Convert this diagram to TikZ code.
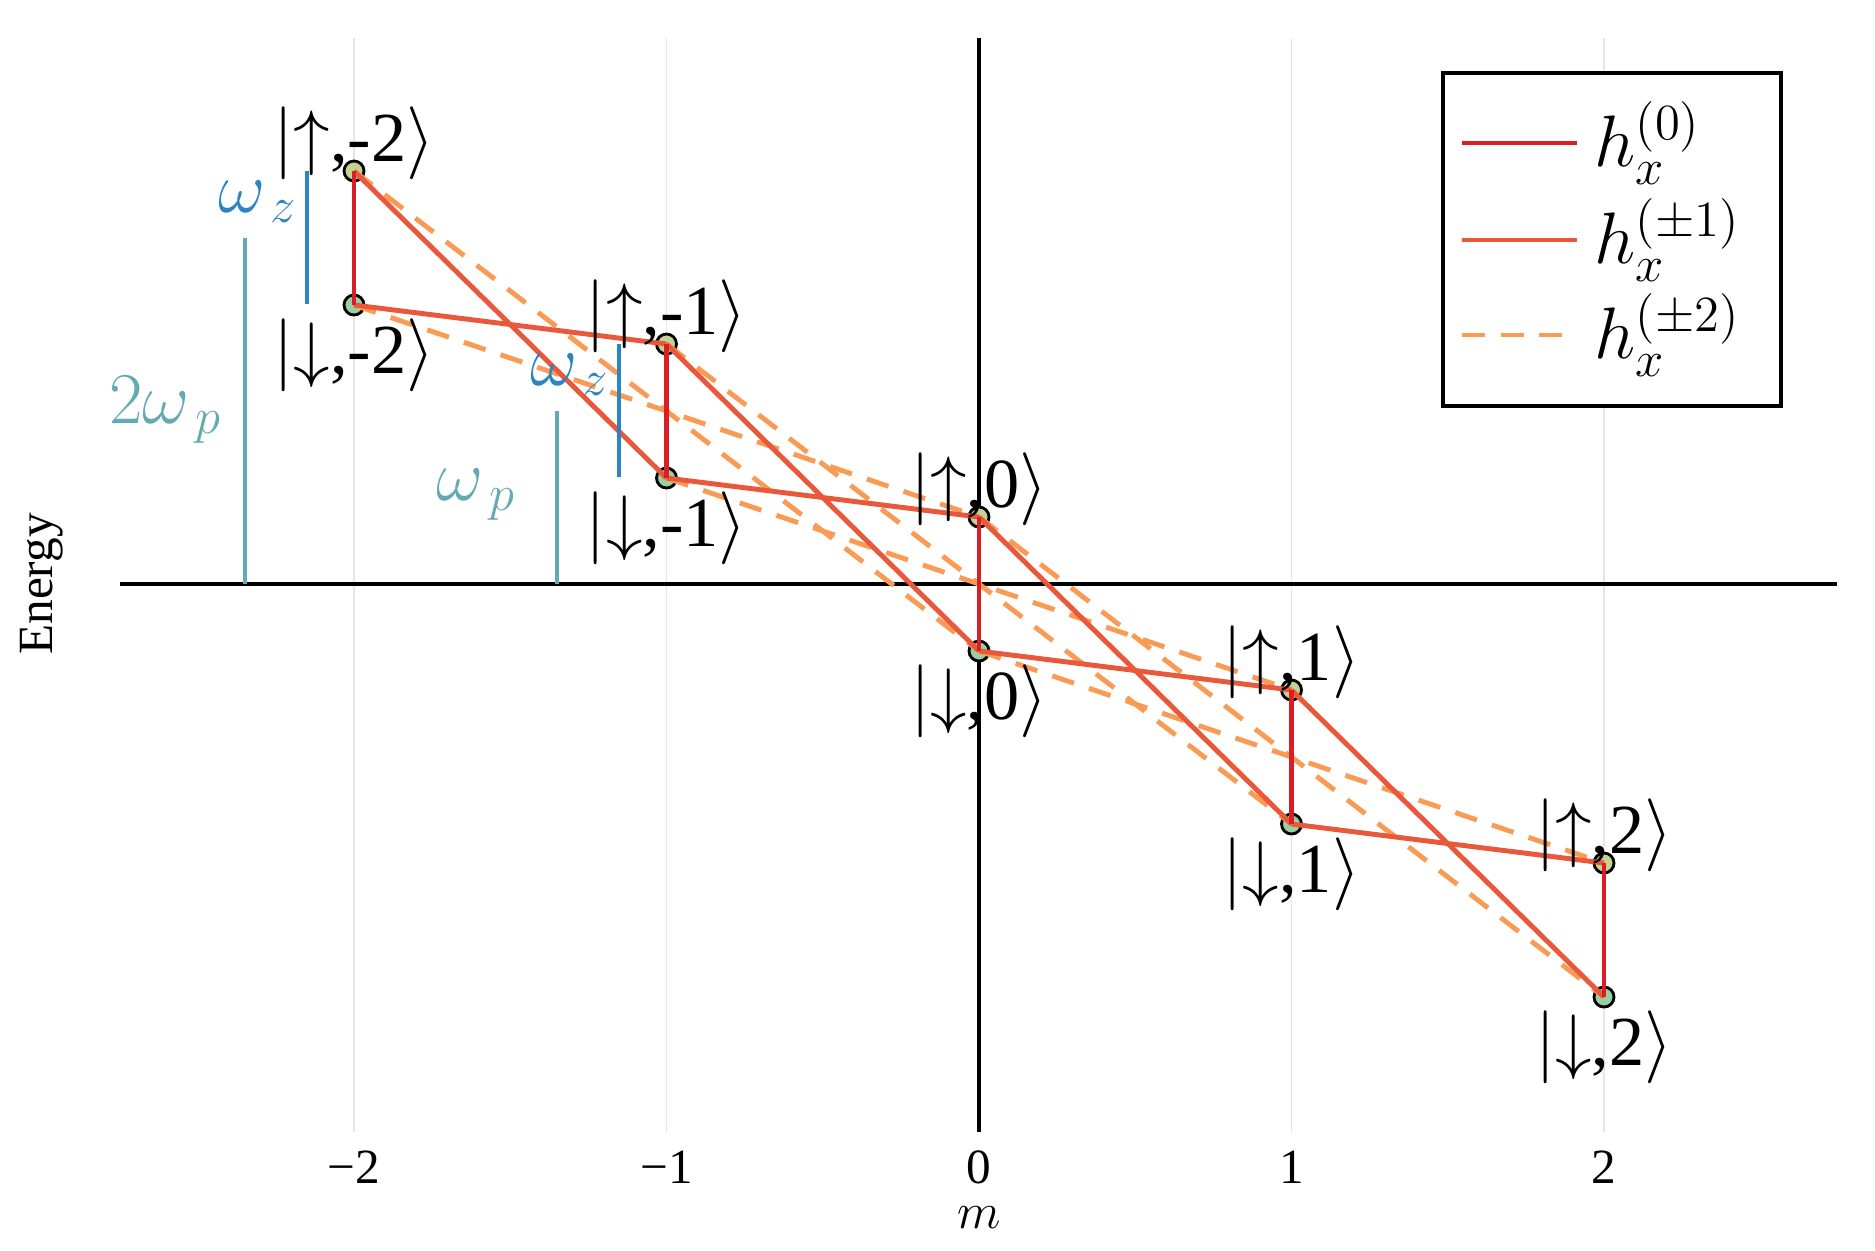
\documentclass[tikz,border=0pt]{standalone}
\usepackage{fontspec}
\setmainfont{Liberation Serif}
\definecolor{hzero}{RGB}{218,30,38}
\definecolor{hone}{RGB}{233,88,58}
\definecolor{htwo}{RGB}{250,155,85}
\definecolor{wzc}{RGB}{45,132,192}
\definecolor{wpc}{RGB}{100,170,178}
\definecolor{upfill}{RGB}{196,210,148}
\definecolor{dnfill}{RGB}{152,208,164}
\definecolor{gridc}{RGB}{230,230,230}
\newcommand{\ketup}[1]{$|{\uparrow}$,#1$\rangle$}
\newcommand{\ketdn}[1]{$|{\downarrow}$,#1$\rangle$}
\tikzset{
  upstate/.style={circle, draw=black, fill=upfill, line width=0.8pt, minimum size=0.2cm, inner sep=0pt},
  dnstate/.style={circle, draw=black, fill=dnfill, line width=0.8pt, minimum size=0.2cm, inner sep=0pt},
  ketlab/.style={font=\fontsize{20}{24}\selectfont, inner sep=0pt, anchor=base},
  bigmath/.style={font=\fontsize{20}{24}\selectfont, inner sep=0pt},
  ticklab/.style={font=\fontsize{14}{17}\selectfont, inner sep=0pt, anchor=base},
  hzeroline/.style={draw=hzero, line width=1.4pt},
  honeline/.style={draw=hone, line width=1.4pt},
  htwoline/.style={draw=htwo, line width=1.4pt, dash pattern=on 6.5pt off 4.5pt},
  axisline/.style={draw=black, line width=1.1pt},
  gridline/.style={draw=gridc, line width=0.5pt},
  barz/.style={draw=wzc, line width=1.3pt},
  barp/.style={draw=wpc, line width=1.3pt},
}
\begin{document}
\begin{tikzpicture}[x=0.01cm,y=-0.01cm]
\useasboundingbox (0,0) rectangle (1875,1250);
% grid
\foreach \gx in {354,666.5,1291.5,1604} {
  \draw[gridline] (\gx,38) -- (\gx,1132);
}
% axes
\draw[axisline] (979,38) -- (979,1132);
\draw[axisline] (120,584) -- (1837,584);
% tick labels
\node[ticklab] (t0) at (354,1183) {−2};
\node[ticklab] (t1) at (666.5,1183) {−1};
\node[ticklab] (t2) at (979,1183) {0};
\node[ticklab] (t3) at (1291.5,1183) {1};
\node[ticklab] (t4) at (1604,1183) {2};
\node[ticklab] (xlab) at (979,1228) {$m$};
\node[font=\fontsize{14}{17}\selectfont, inner sep=0pt, rotate=90] (ylab) at (42,584) {Energy};
% states
\foreach \i in {0,...,4} {
  \pgfmathsetmacro\X{979+312.5*(\i-2)}
  \pgfmathsetmacro\Yu{517+173*(\i-2)}
  \pgfmathsetmacro\Yd{651+173*(\i-2)}
  \node[upstate] (u\i) at (\X,\Yu) {};
  \node[dnstate] (d\i) at (\X,\Yd) {};
}
% h^(+-2) couplings
\foreach \i in {0,1,2} {
  \pgfmathtruncatemacro\j{\i+2}
  \draw[htwoline] (u\i.center) -- (d\j.center);
  \draw[htwoline] (d\i.center) -- (u\j.center);
}
% h^(+-1) couplings
\foreach \i in {0,1,2,3} {
  \pgfmathtruncatemacro\j{\i+1}
  \draw[honeline] (u\i.center) -- (d\j.center);
  \draw[honeline] (d\i.center) -- (u\j.center);
}
% h^(0) couplings
\foreach \i in {0,...,4} {
  \draw[hzeroline] (u\i.center) -- (d\i.center);
}
% state labels
\foreach \i/\lab in {0/-2,1/-1,2/0,3/1,4/2} {
  \pgfmathsetmacro\X{979+312.5*(\i-2)}
  \pgfmathsetmacro\Yu{517+173*(\i-2)}
  \pgfmathsetmacro\Yd{651+173*(\i-2)}
  \node[ketlab] (lu\i) at (\X,\Yu-10) {\ketup{\lab}};
  \node[ketlab] (ld\i) at (\X,\Yd+68) {\ketdn{\lab}};
}
% energy scale bars
\draw[barz] (307,171) -- (307,304);
\node[bigmath, anchor=base, text=wzc] (wz1) at (258,212) {$\omega_{\,z}$};
\draw[barz] (619,344) -- (619,477);
\node[bigmath, anchor=base, text=wzc] (wz2) at (570,385) {$\omega_{\,z}$};
\draw[barp] (245,238) -- (245,584);
\node[bigmath, anchor=base, text=wpc] (wp2) at (166,423) {$2\omega_{\,p}$};
\draw[barp] (557,411) -- (557,584);
\node[bigmath, anchor=base, text=wpc] (wp1) at (476,500) {$\omega_{\,p}$};
% legend
\draw[draw=black, fill=white, line width=1.1pt] (1443,73) rectangle (1781,406);
\coordinate (la0) at (1462,143); \coordinate (lb0) at (1577,143);
\coordinate (la1) at (1462,240); \coordinate (lb1) at (1577,240);
\coordinate (la2) at (1462,335); \coordinate (lb2) at (1577,335);
\draw[hzeroline] (la0) -- (lb0);
\draw[honeline] (la1) -- (lb1);
\draw[htwoline] (la2) -- (lb2);
\node[bigmath, anchor=west] (lg0) at (1594,143) {$h_x^{(0)}$};
\node[bigmath, anchor=west] (lg1) at (1594,240) {$h_x^{(\pm1)}$};
\node[bigmath, anchor=west] (lg2) at (1594,335) {$h_x^{(\pm2)}$};
\end{tikzpicture}
\end{document}
